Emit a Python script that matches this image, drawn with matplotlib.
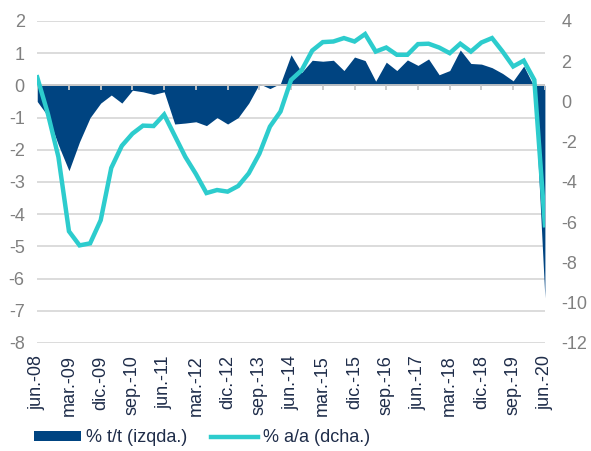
import numpy as np
import matplotlib
matplotlib.use("Agg")
import matplotlib.pyplot as plt
from matplotlib.lines import Line2D
from matplotlib.patches import Patch

plt.rcParams['font.family'] = ['Liberation Sans', 'DejaVu Sans']
plt.rcParams['axes.unicode_minus'] = False

# quarterly data, jun.-08 .. jun.-20
tt = [-0.5, -0.95, -1.85, -2.65, -1.75, -1.0, -0.55, -0.3, -0.55, -0.15,
      -0.2, -0.28, -0.2, -1.2, -1.17, -1.13, -1.25, -1.0, -1.2, -1.0,
      -0.55, 0.05, -0.1, 0.06, 0.95, 0.4, 0.78, 0.75, 0.78, 0.46,
      0.88, 0.77, 0.13, 0.72, 0.46, 0.79, 0.62, 0.82, 0.33, 0.46,
      1.1, 0.68, 0.66, 0.55, 0.37, 0.14, 0.6, -0.05, -6.6]
aa = [1.2, -0.6, -2.75, -6.45, -7.15, -7.05, -5.9, -3.3, -2.2, -1.6,
      -1.2, -1.22, -0.65, -1.7, -2.75, -3.6, -4.55, -4.4, -4.48, -4.2,
      -3.57, -2.6, -1.25, -0.5, 1.07, 1.55, 2.53, 2.95, 2.98, 3.15,
      2.98, 3.35, 2.48, 2.68, 2.32, 2.32, 2.85, 2.87, 2.68, 2.4,
      2.87, 2.48, 2.93, 3.15, 2.48, 1.74, 2.03, 1.07, -6.15]
tick_labels = ['jun.-08', 'mar.-09', 'dic.-09', 'sep.-10', 'jun.-11', 'mar.-12',
               'dic.-12', 'sep.-13', 'jun.-14', 'mar.-15', 'dic.-15', 'sep.-16',
               'jun.-17', 'mar.-18', 'dic.-18', 'sep.-19', 'jun.-20']

navy = '#004481'
teal = '#2dcccd'
grey = '#808080'

x = np.arange(len(tt))
ticks = x[::3]

fig = plt.figure(figsize=(5.91, 4.51), dpi=100)
ax = fig.add_axes([0.063, 0.2395, 0.859, 0.714])

ax.set_ylim(-8, 2)
ax.set_xlim(0, len(tt) - 1)
ax.set_yticks(range(-8, 3))
ax.grid(axis='y', color='#d9d9d9', lw=1.3, zorder=0)
ax.set_axisbelow(True)
ax.fill_between(x, tt, 0, color=navy, lw=0, zorder=2)
ax.axhline(0, color='#c8c8c8', lw=1.3, zorder=3)
ax.vlines(ticks, -0.13, 0, color='#c8c8c8', lw=1.3, zorder=3)

ax.set_xticks(ticks)
ax.set_xticklabels(tick_labels, rotation=90, color='#1f2d4a', fontsize=13)
ax.tick_params(axis='x', length=0, pad=9)
ax.tick_params(axis='y', length=0, pad=9, labelcolor=grey, labelsize=13)
for s in ax.spines.values():
    s.set_visible(False)

ax2 = ax.twinx()
ax2.plot(x, aa, color=teal, lw=3.2, solid_joinstyle='miter', zorder=4)
ax2.set_ylim(-12, 4)
ax2.set_yticks(range(-12, 5, 2))
ax2.tick_params(axis='y', length=0, pad=12, labelcolor=grey, labelsize=13)
for s in ax2.spines.values():
    s.set_visible(False)

handles = [Patch(facecolor=navy, edgecolor='none'),
           Line2D([], [], color=teal, lw=3.2)]
fig.legend(handles, ['% t/t (izqda.)', '% a/a (dcha.)'], loc='center left',
           bbox_to_anchor=(0.03, 0.029), ncol=2, frameon=False, fontsize=13,
           handlelength=2.6, handleheight=0.5, handletextpad=0.3,
           columnspacing=1.3, labelcolor='#1f2d4a')

fig.savefig('out.png', dpi=100)
